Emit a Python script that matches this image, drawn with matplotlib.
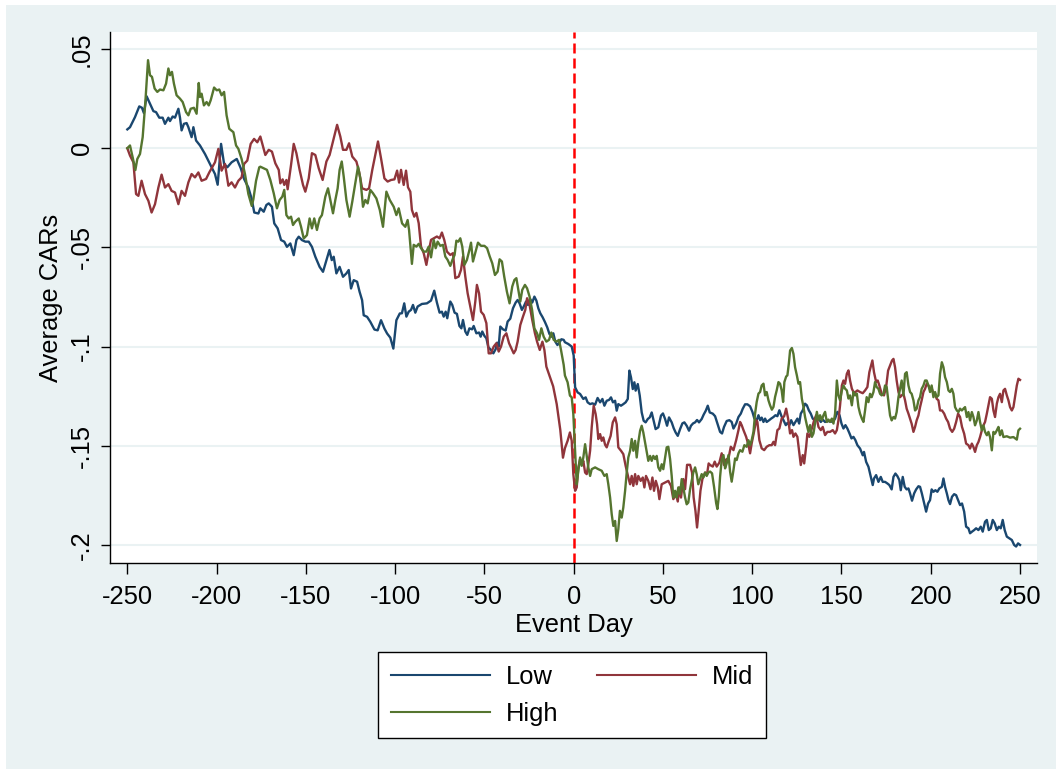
import matplotlib
matplotlib.use("Agg")
import matplotlib.pyplot as plt
from matplotlib.patches import Rectangle

# Average cumulative abnormal returns around the event, by group: (event day, CAR)
low_points = [
    (-250.0, 0.0095), (-248.5, 0.0106), (-245.7, 0.0157), (-243.3, 0.0211), (-241.8, 0.0204),
    (-240.7, 0.0177), (-239.2, 0.0262), (-236.9, 0.0216), (-235.4, 0.0187), (-233.9, 0.0182),
    (-232.1, 0.0154), (-230.2, 0.0154), (-228.9, 0.0123), (-227.0, 0.0154), (-226.1, 0.0137),
    (-224.6, 0.0160), (-223.3, 0.0154), (-221.4, 0.0199), (-220.5, 0.0154), (-219.6, 0.0090),
    (-218.3, 0.0123), (-216.8, 0.0127), (-215.8, 0.0106), (-214.0, 0.0056), (-213.0, 0.0106),
    (-211.5, 0.0039), (-209.3, 0.0014), (-206.5, -0.0029), (-203.7, -0.0079), (-200.9, -0.0130),
    (-199.4, -0.0184), (-197.5, 0.0022), (-195.8, -0.0079), (-194.0, -0.0096), (-191.6, -0.0071),
    (-188.7, -0.0054), (-186.5, -0.0100), (-184.6, -0.0155), (-182.2, -0.0198), (-180.3, -0.0257),
    (-178.9, -0.0324), (-176.6, -0.0329), (-175.5, -0.0303), (-173.6, -0.0320), (-172.1, -0.0286),
    (-170.8, -0.0278), (-169.0, -0.0295), (-167.7, -0.0379), (-165.8, -0.0404), (-163.9, -0.0463),
    (-162.1, -0.0471), (-160.6, -0.0497), (-158.7, -0.0480), (-156.8, -0.0539), (-155.3, -0.0463),
    (-154.0, -0.0446), (-152.2, -0.0463), (-150.3, -0.0471), (-148.4, -0.0471), (-146.6, -0.0497),
    (-144.7, -0.0547), (-142.3, -0.0598), (-140.4, -0.0623), (-138.5, -0.0564), (-136.8, -0.0513),
    (-135.5, -0.0564), (-134.4, -0.0547), (-132.9, -0.0631), (-131.1, -0.0598), (-129.2, -0.0648),
    (-127.3, -0.0631), (-126.0, -0.0614), (-124.7, -0.0707), (-123.2, -0.0665), (-121.3, -0.0673),
    (-119.9, -0.0724), (-118.5, -0.0766), (-117.6, -0.0842), (-115.7, -0.0850), (-113.9, -0.0875),
    (-111.6, -0.0914), (-109.8, -0.0918), (-107.9, -0.0867), (-106.0, -0.0909), (-104.5, -0.0934),
    (-102.7, -0.0955), (-101.0, -0.1010), (-99.3, -0.0867), (-97.4, -0.0833), (-96.2, -0.0832),
    (-94.9, -0.0782), (-93.7, -0.0849), (-92.4, -0.0824), (-91.1, -0.0815), (-90.0, -0.0790),
    (-88.7, -0.0829), (-87.4, -0.0798), (-85.0, -0.0785), (-82.2, -0.0782), (-79.9, -0.0768),
    (-78.1, -0.0718), (-76.6, -0.0778), (-75.1, -0.0829), (-73.8, -0.0824), (-72.8, -0.0849),
    (-71.7, -0.0824), (-70.8, -0.0857), (-69.1, -0.0773), (-68.0, -0.0790), (-66.7, -0.0829),
    (-65.4, -0.0835), (-64.0, -0.0896), (-62.9, -0.0908), (-62.0, -0.0866), (-60.7, -0.0924),
    (-59.6, -0.0941), (-58.4, -0.0908), (-56.9, -0.0913), (-56.0, -0.0896), (-54.5, -0.0933),
    (-53.0, -0.0929), (-52.1, -0.0950), (-51.2, -0.0924), (-50.0, -0.0946), (-48.9, -0.0958),
    (-47.8, -0.1003), (-46.3, -0.1017), (-45.0, -0.1034), (-43.7, -0.1013), (-42.9, -0.0980),
    (-42.0, -0.1000), (-41.1, -0.0899), (-39.6, -0.0913), (-38.1, -0.0919), (-37.0, -0.0874),
    (-35.5, -0.0859), (-34.0, -0.0807), (-32.5, -0.0778), (-31.4, -0.0765), (-30.3, -0.0782),
    (-29.0, -0.0815), (-27.8, -0.0795), (-26.7, -0.0773), (-25.6, -0.0790), (-24.3, -0.0761),
    (-23.2, -0.0778), (-22.0, -0.0748), (-20.9, -0.0768), (-19.8, -0.0807), (-18.7, -0.0832),
    (-17.4, -0.0852), (-16.1, -0.0876), (-14.8, -0.0903), (-13.6, -0.0936), (-12.5, -0.0950),
    (-11.4, -0.0933), (-10.3, -0.0975), (-9.1, -0.0992), (-8.0, -0.0980), (-6.9, -0.0963),
    (-5.6, -0.0966), (-4.9, -0.0978), (-3.0, -0.0987), (-1.1, -0.1000), (0.0, -0.1045),
    (0.8, -0.1205), (2.2, -0.1231), (3.6, -0.1239), (5.4, -0.1264), (6.7, -0.1256),
    (7.8, -0.1281), (9.2, -0.1290), (10.5, -0.1286), (12.0, -0.1293), (13.4, -0.1259),
    (14.8, -0.1281), (16.1, -0.1264), (17.2, -0.1298), (18.5, -0.1273), (19.8, -0.1269),
    (20.9, -0.1256), (22.0, -0.1281), (23.2, -0.1273), (24.1, -0.1323), (25.0, -0.1290),
    (26.5, -0.1298), (27.8, -0.1290), (29.1, -0.1281), (30.3, -0.1264), (31.2, -0.1121),
    (32.1, -0.1155), (33.1, -0.1214), (34.0, -0.1180), (34.7, -0.1222), (35.9, -0.1189),
    (37.0, -0.1247), (38.1, -0.1332), (39.2, -0.1374), (40.3, -0.1382), (41.5, -0.1365),
    (42.6, -0.1357), (43.7, -0.1332), (44.8, -0.1374), (45.9, -0.1416), (47.4, -0.1407),
    (48.9, -0.1348), (50.0, -0.1337), (51.2, -0.1365), (52.3, -0.1399), (53.4, -0.1357),
    (54.9, -0.1382), (56.0, -0.1411), (57.1, -0.1433), (58.3, -0.1450), (59.6, -0.1416),
    (60.9, -0.1387), (62.0, -0.1382), (63.3, -0.1399), (64.6, -0.1424), (65.7, -0.1399),
    (66.9, -0.1387), (68.0, -0.1382), (69.1, -0.1370), (70.2, -0.1382), (71.7, -0.1365),
    (72.8, -0.1343), (74.0, -0.1323), (75.1, -0.1298), (76.2, -0.1332), (77.9, -0.1338),
    (79.2, -0.1351), (80.5, -0.1388), (82.0, -0.1430), (83.1, -0.1438), (84.2, -0.1405),
    (85.7, -0.1375), (87.2, -0.1371), (88.5, -0.1380), (89.5, -0.1413), (91.0, -0.1388),
    (92.3, -0.1355), (93.6, -0.1338), (94.7, -0.1313), (96.0, -0.1291), (97.3, -0.1291),
    (98.8, -0.1301), (100.1, -0.1329), (101.2, -0.1363), (102.5, -0.1371), (103.5, -0.1346),
    (104.4, -0.1371), (105.3, -0.1358), (106.3, -0.1380), (107.2, -0.1363), (108.1, -0.1380),
    (109.5, -0.1371), (110.6, -0.1363), (111.9, -0.1355), (113.0, -0.1346), (114.1, -0.1351),
    (115.2, -0.1321), (116.4, -0.1351), (117.5, -0.1371), (118.8, -0.1396), (119.7, -0.1385),
    (120.8, -0.1396), (121.8, -0.1371), (123.1, -0.1396), (124.2, -0.1380), (125.3, -0.1363),
    (126.3, -0.1388), (127.2, -0.1338), (128.3, -0.1321), (129.6, -0.1288), (130.6, -0.1296),
    (131.7, -0.1321), (132.8, -0.1338), (133.9, -0.1363), (135.0, -0.1371), (136.2, -0.1371),
    (137.3, -0.1363), (138.4, -0.1380), (139.5, -0.1368), (140.8, -0.1380), (142.1, -0.1376),
    (143.6, -0.1376), (145.1, -0.1380), (146.4, -0.1363), (147.7, -0.1329), (148.9, -0.1346),
    (150.0, -0.1388), (151.1, -0.1413), (152.2, -0.1396), (153.3, -0.1413), (154.5, -0.1438),
    (155.6, -0.1463), (156.7, -0.1455), (157.8, -0.1472), (158.9, -0.1497), (160.4, -0.1514),
    (161.9, -0.1548), (162.6, -0.1531), (163.8, -0.1581), (165.1, -0.1606), (166.4, -0.1657),
    (167.5, -0.1698), (168.2, -0.1665), (169.4, -0.1648), (170.7, -0.1682), (172.0, -0.1657),
    (173.1, -0.1682), (174.4, -0.1682), (175.7, -0.1690), (176.8, -0.1698), (178.1, -0.1720),
    (179.1, -0.1657), (180.2, -0.1640), (181.3, -0.1653), (182.4, -0.1673), (183.2, -0.1724),
    (184.3, -0.1657), (185.4, -0.1707), (186.5, -0.1720), (187.5, -0.1715), (188.4, -0.1740),
    (189.5, -0.1777), (190.7, -0.1740), (191.8, -0.1720), (193.1, -0.1704), (194.0, -0.1707),
    (195.0, -0.1740), (196.3, -0.1791), (197.4, -0.1832), (198.5, -0.1791), (199.6, -0.1774),
    (200.5, -0.1720), (201.5, -0.1732), (202.6, -0.1724), (203.7, -0.1732), (204.8, -0.1715),
    (206.2, -0.1707), (207.1, -0.1665), (208.0, -0.1707), (209.0, -0.1740), (209.9, -0.1774),
    (210.8, -0.1794), (211.9, -0.1757), (213.1, -0.1744), (214.2, -0.1749), (215.3, -0.1774),
    (216.4, -0.1799), (217.5, -0.1791), (218.7, -0.1832), (219.8, -0.1908), (221.1, -0.1916),
    (222.0, -0.1941), (223.1, -0.1933), (224.3, -0.1925), (225.4, -0.1916), (226.7, -0.1925),
    (228.0, -0.1908), (229.1, -0.1933), (230.4, -0.1883), (231.4, -0.1874), (232.5, -0.1925),
    (233.6, -0.1916), (234.7, -0.1874), (235.8, -0.1891), (237.0, -0.1925), (238.1, -0.1908),
    (239.2, -0.1916), (240.3, -0.1874), (241.4, -0.1925), (242.6, -0.1958), (244.1, -0.1967),
    (245.4, -0.1975), (246.7, -0.2000), (247.8, -0.2008), (248.9, -0.1992), (250.0, -0.2000),
]

mid_points = [
    (-250.0, 0.0000), (-248.5, -0.0037), (-246.6, -0.0071), (-245.1, -0.0231), (-243.8, -0.0240),
    (-242.0, -0.0164), (-240.1, -0.0231), (-238.2, -0.0265), (-236.4, -0.0324), (-234.5, -0.0282),
    (-232.6, -0.0198), (-230.8, -0.0133), (-228.9, -0.0198), (-227.0, -0.0181), (-225.2, -0.0215),
    (-223.3, -0.0223), (-221.4, -0.0282), (-219.6, -0.0215), (-217.7, -0.0240), (-215.8, -0.0172),
    (-214.0, -0.0130), (-212.1, -0.0147), (-210.2, -0.0122), (-208.4, -0.0164), (-205.9, -0.0155),
    (-204.1, -0.0122), (-200.9, -0.0071), (-199.0, -0.0003), (-197.2, -0.0113), (-195.3, -0.0079),
    (-193.4, -0.0189), (-191.6, -0.0172), (-189.7, -0.0198), (-187.8, -0.0164), (-186.0, -0.0147),
    (-184.6, -0.0079), (-182.8, -0.0062), (-180.9, 0.0022), (-179.0, 0.0047), (-177.2, 0.0030),
    (-175.5, 0.0059), (-172.7, -0.0034), (-170.8, -0.0008), (-169.0, -0.0017), (-167.1, -0.0076),
    (-165.2, -0.0109), (-164.3, -0.0177), (-163.0, -0.0157), (-162.1, -0.0185), (-160.9, -0.0160),
    (-160.2, -0.0207), (-158.3, -0.0084), (-156.8, 0.0022), (-155.3, -0.0025), (-153.5, -0.0109),
    (-151.6, -0.0185), (-150.3, -0.0219), (-148.4, -0.0152), (-146.6, -0.0025), (-144.7, -0.0034),
    (-142.8, -0.0101), (-140.6, -0.0160), (-138.5, -0.0067), (-136.7, -0.0034), (-134.8, 0.0034),
    (-132.5, 0.0118), (-130.7, 0.0059), (-129.2, -0.0008), (-127.3, -0.0008), (-125.8, 0.0025),
    (-124.0, -0.0042), (-121.7, -0.0067), (-120.2, -0.0118), (-118.5, -0.0202), (-116.1, -0.0210),
    (-114.6, -0.0202), (-112.8, -0.0109), (-110.9, -0.0025), (-109.6, 0.0034), (-107.9, -0.0051),
    (-106.0, -0.0152), (-104.2, -0.0168), (-102.3, -0.0160), (-100.4, -0.0157), (-98.9, -0.0113),
    (-97.8, -0.0173), (-96.7, -0.0109), (-95.2, -0.0185), (-93.9, -0.0113), (-92.8, -0.0197),
    (-91.5, -0.0219), (-90.6, -0.0311), (-89.3, -0.0345), (-88.1, -0.0326), (-86.8, -0.0378),
    (-85.5, -0.0496), (-84.0, -0.0529), (-82.5, -0.0588), (-81.2, -0.0521), (-79.9, -0.0462),
    (-78.4, -0.0454), (-76.6, -0.0445), (-75.1, -0.0454), (-73.8, -0.0425), (-72.5, -0.0462),
    (-71.0, -0.0521), (-69.1, -0.0538), (-67.6, -0.0529), (-66.3, -0.0655), (-64.4, -0.0647),
    (-63.1, -0.0613), (-62.0, -0.0546), (-60.7, -0.0647), (-59.4, -0.0731), (-57.9, -0.0798),
    (-56.4, -0.0866), (-55.1, -0.0773), (-54.2, -0.0689), (-53.0, -0.0731), (-51.9, -0.0824),
    (-50.4, -0.0840), (-48.9, -0.0882), (-47.6, -0.1034), (-46.3, -0.1034), (-44.8, -0.1000),
    (-43.3, -0.0983), (-42.0, -0.1025), (-40.7, -0.1000), (-39.2, -0.0950), (-37.7, -0.0933),
    (-36.2, -0.0983), (-34.9, -0.1008), (-33.6, -0.1034), (-32.5, -0.1017), (-31.4, -0.0975),
    (-29.9, -0.0891), (-28.4, -0.0849), (-27.1, -0.0815), (-26.1, -0.0756), (-24.7, -0.0790),
    (-23.2, -0.0866), (-21.7, -0.0933), (-20.5, -0.0975), (-19.0, -0.1017), (-17.5, -0.0975),
    (-16.4, -0.1017), (-15.3, -0.1101), (-13.4, -0.1151), (-11.5, -0.1200), (-9.5, -0.1290),
    (-7.5, -0.1420), (-6.0, -0.1560), (-4.9, -0.1512), (-3.4, -0.1475), (-2.1, -0.1433),
    (-1.1, -0.1475), (-0.2, -0.1643), (0.8, -0.1727), (1.7, -0.1710), (2.6, -0.1609),
    (3.6, -0.1567), (4.5, -0.1593), (5.4, -0.1576), (6.4, -0.1635), (7.3, -0.1643),
    (8.2, -0.1593), (9.2, -0.1525), (10.1, -0.1407), (11.2, -0.1298), (12.3, -0.1340),
    (13.1, -0.1391), (13.8, -0.1466), (14.8, -0.1441), (15.7, -0.1475), (16.6, -0.1458),
    (17.6, -0.1495), (18.5, -0.1508), (19.4, -0.1483), (20.7, -0.1450), (21.9, -0.1382),
    (23.2, -0.1357), (24.1, -0.1391), (25.0, -0.1508), (26.5, -0.1525), (27.8, -0.1542),
    (29.1, -0.1601), (30.6, -0.1660), (31.6, -0.1694), (32.5, -0.1652), (33.4, -0.1702),
    (34.4, -0.1643), (35.3, -0.1694), (36.2, -0.1652), (37.5, -0.1677), (38.7, -0.1660),
    (39.6, -0.1710), (40.5, -0.1652), (41.8, -0.1677), (43.0, -0.1719), (44.1, -0.1660),
    (45.0, -0.1727), (46.0, -0.1677), (47.1, -0.1710), (48.0, -0.1769), (49.3, -0.1694),
    (51.2, -0.1685), (53.0, -0.1677), (54.5, -0.1702), (55.8, -0.1769), (57.3, -0.1744),
    (58.3, -0.1781), (59.2, -0.1710), (60.1, -0.1761), (61.4, -0.1668), (62.4, -0.1719),
    (63.5, -0.1596), (65.2, -0.1596), (66.3, -0.1635), (67.2, -0.1761), (68.2, -0.1828),
    (69.1, -0.1912), (70.0, -0.1828), (71.0, -0.1727), (72.1, -0.1668), (73.6, -0.1635),
    (74.7, -0.1643), (75.6, -0.1589), (76.4, -0.1597), (77.9, -0.1605), (79.0, -0.1580),
    (80.1, -0.1605), (81.6, -0.1585), (82.9, -0.1538), (84.2, -0.1597), (85.4, -0.1569),
    (86.7, -0.1564), (88.0, -0.1505), (89.5, -0.1522), (91.0, -0.1472), (92.3, -0.1421),
    (93.2, -0.1380), (94.1, -0.1396), (95.1, -0.1421), (96.6, -0.1455), (97.9, -0.1497),
    (98.8, -0.1538), (99.7, -0.1488), (101.0, -0.1430), (102.2, -0.1371), (102.9, -0.1380),
    (104.0, -0.1472), (105.3, -0.1513), (106.7, -0.1522), (108.1, -0.1505), (109.6, -0.1497),
    (110.9, -0.1497), (111.9, -0.1480), (112.8, -0.1497), (114.1, -0.1421), (115.2, -0.1413),
    (116.5, -0.1363), (117.9, -0.1351), (119.0, -0.1313), (120.1, -0.1363), (121.2, -0.1438),
    (122.3, -0.1421), (123.1, -0.1455), (124.2, -0.1438), (125.3, -0.1455), (126.4, -0.1538),
    (127.2, -0.1597), (128.3, -0.1547), (129.1, -0.1589), (130.2, -0.1505), (130.9, -0.1438),
    (132.0, -0.1455), (133.4, -0.1413), (134.7, -0.1371), (135.8, -0.1346), (137.1, -0.1405),
    (138.4, -0.1421), (139.5, -0.1405), (140.8, -0.1446), (142.1, -0.1430), (143.6, -0.1430),
    (145.1, -0.1421), (146.4, -0.1438), (147.4, -0.1421), (148.3, -0.1371), (149.2, -0.1296),
    (150.2, -0.1196), (151.1, -0.1171), (152.0, -0.1188), (153.0, -0.1137), (153.9, -0.1120),
    (154.8, -0.1171), (155.8, -0.1212), (156.7, -0.1229), (157.8, -0.1229), (158.9, -0.1221),
    (160.4, -0.1229), (161.9, -0.1235), (163.2, -0.1221), (164.5, -0.1204), (165.6, -0.1129),
    (166.6, -0.1095), (167.3, -0.1070), (168.2, -0.1129), (169.4, -0.1179), (170.3, -0.1171),
    (171.2, -0.1196), (172.5, -0.1238), (173.8, -0.1246), (175.0, -0.1204), (176.1, -0.1121),
    (177.2, -0.1095), (178.3, -0.1070), (179.1, -0.1062), (180.0, -0.1104), (180.9, -0.1171),
    (181.9, -0.1229), (182.8, -0.1255), (183.7, -0.1246), (184.7, -0.1238), (185.6, -0.1271),
    (186.5, -0.1313), (187.5, -0.1338), (188.4, -0.1363), (189.3, -0.1389), (190.3, -0.1430),
    (191.2, -0.1405), (192.1, -0.1372), (193.1, -0.1347), (194.0, -0.1305), (194.9, -0.1271),
    (195.9, -0.1229), (196.8, -0.1213), (197.7, -0.1188), (198.7, -0.1196), (199.6, -0.1213),
    (200.5, -0.1209), (201.5, -0.1238), (202.4, -0.1238), (203.3, -0.1263), (204.3, -0.1271),
    (205.2, -0.1322), (206.3, -0.1322), (207.5, -0.1338), (208.6, -0.1363), (209.7, -0.1380),
    (210.8, -0.1414), (212.0, -0.1430), (213.1, -0.1414), (214.2, -0.1380), (215.3, -0.1338),
    (216.4, -0.1355), (217.5, -0.1405), (218.7, -0.1439), (219.8, -0.1489), (221.1, -0.1497),
    (222.0, -0.1514), (223.0, -0.1489), (223.9, -0.1506), (224.8, -0.1531), (225.8, -0.1497),
    (226.7, -0.1481), (227.6, -0.1456), (228.6, -0.1422), (229.5, -0.1397), (230.4, -0.1380),
    (231.4, -0.1338), (232.3, -0.1296), (233.2, -0.1255), (234.2, -0.1263), (235.1, -0.1322),
    (236.0, -0.1355), (237.0, -0.1288), (237.9, -0.1255), (238.8, -0.1238), (239.8, -0.1280),
    (240.7, -0.1221), (241.6, -0.1213), (242.6, -0.1246), (243.5, -0.1271), (244.4, -0.1305),
    (245.4, -0.1322), (246.3, -0.1305), (247.2, -0.1255), (248.2, -0.1196), (249.1, -0.1162),
    (250.0, -0.1168),
]

high_points = [
    (-250.0, 0.0000), (-248.5, 0.0014), (-247.0, -0.0046), (-245.5, -0.0110), (-244.4, -0.0054),
    (-242.9, -0.0029), (-241.4, 0.0056), (-239.9, 0.0233), (-238.4, 0.0444), (-237.3, 0.0368),
    (-236.2, 0.0360), (-234.7, 0.0301), (-233.2, 0.0284), (-231.7, 0.0296), (-229.8, 0.0292),
    (-228.3, 0.0326), (-227.0, 0.0402), (-226.1, 0.0368), (-225.0, 0.0385), (-223.9, 0.0326),
    (-222.4, 0.0267), (-220.5, 0.0250), (-219.0, 0.0233), (-217.1, 0.0182), (-215.8, 0.0166),
    (-214.5, 0.0199), (-212.7, 0.0204), (-211.2, 0.0174), (-210.0, 0.0329), (-209.3, 0.0258),
    (-208.4, 0.0275), (-207.1, 0.0216), (-205.6, 0.0233), (-204.4, 0.0216), (-203.3, 0.0242),
    (-201.4, 0.0306), (-199.9, 0.0292), (-198.5, 0.0296), (-197.2, 0.0267), (-195.8, 0.0284),
    (-194.4, 0.0166), (-192.9, 0.0098), (-190.6, 0.0081), (-189.1, 0.0014), (-187.8, -0.0003),
    (-186.0, -0.0054), (-184.1, -0.0130), (-182.2, -0.0231), (-180.3, -0.0291), (-179.4, -0.0257),
    (-177.9, -0.0164), (-176.1, -0.0096), (-175.5, -0.0093), (-173.6, -0.0101), (-171.8, -0.0109),
    (-169.9, -0.0160), (-168.0, -0.0227), (-166.2, -0.0303), (-164.7, -0.0261), (-163.2, -0.0244),
    (-162.1, -0.0210), (-160.9, -0.0337), (-159.6, -0.0354), (-158.3, -0.0345), (-157.2, -0.0387),
    (-155.9, -0.0370), (-154.0, -0.0354), (-152.7, -0.0396), (-151.2, -0.0455), (-149.4, -0.0438),
    (-147.9, -0.0354), (-146.6, -0.0404), (-145.3, -0.0354), (-143.8, -0.0412), (-142.3, -0.0354),
    (-141.0, -0.0337), (-139.1, -0.0244), (-137.6, -0.0202), (-136.3, -0.0261), (-134.8, -0.0328),
    (-133.5, -0.0261), (-132.2, -0.0202), (-131.1, -0.0109), (-129.9, -0.0067), (-128.8, -0.0143),
    (-127.3, -0.0261), (-125.5, -0.0345), (-124.0, -0.0269), (-122.3, -0.0177), (-120.8, -0.0093),
    (-119.5, -0.0152), (-118.0, -0.0295), (-116.7, -0.0261), (-115.4, -0.0278), (-113.9, -0.0210),
    (-112.4, -0.0227), (-110.5, -0.0253), (-108.6, -0.0311), (-106.8, -0.0396), (-104.9, -0.0219),
    (-103.0, -0.0261), (-100.8, -0.0295), (-99.3, -0.0337), (-98.0, -0.0303), (-96.1, -0.0379),
    (-94.3, -0.0396), (-93.0, -0.0362), (-92.2, -0.0412), (-90.6, -0.0583), (-89.6, -0.0487),
    (-88.1, -0.0496), (-86.8, -0.0482), (-85.5, -0.0504), (-84.0, -0.0521), (-82.5, -0.0521),
    (-81.2, -0.0496), (-79.9, -0.0550), (-78.4, -0.0462), (-77.3, -0.0504), (-76.2, -0.0471),
    (-74.7, -0.0492), (-73.2, -0.0487), (-71.9, -0.0546), (-70.6, -0.0563), (-69.1, -0.0593),
    (-67.8, -0.0560), (-66.7, -0.0538), (-65.7, -0.0466), (-64.6, -0.0471), (-63.5, -0.0454),
    (-62.4, -0.0496), (-61.2, -0.0588), (-59.8, -0.0563), (-58.4, -0.0513), (-57.5, -0.0476),
    (-56.4, -0.0571), (-54.9, -0.0521), (-53.6, -0.0476), (-51.9, -0.0492), (-50.0, -0.0492),
    (-48.5, -0.0504), (-47.0, -0.0546), (-45.6, -0.0580), (-44.1, -0.0639), (-42.6, -0.0622),
    (-41.5, -0.0560), (-40.2, -0.0571), (-38.9, -0.0647), (-37.4, -0.0723), (-35.9, -0.0782),
    (-34.4, -0.0697), (-33.2, -0.0664), (-32.1, -0.0655), (-31.0, -0.0714), (-29.9, -0.0773),
    (-28.8, -0.0714), (-27.3, -0.0689), (-26.1, -0.0706), (-24.7, -0.0748), (-23.3, -0.0815),
    (-22.0, -0.0908), (-20.5, -0.0933), (-19.4, -0.0966), (-18.1, -0.0908), (-16.8, -0.0950),
    (-15.3, -0.0975), (-13.8, -0.0966), (-12.5, -0.0929), (-11.2, -0.0966), (-9.7, -0.0975),
    (-8.2, -0.0966), (-7.1, -0.1017), (-5.6, -0.1092), (-4.9, -0.1146), (-3.4, -0.1180),
    (-2.1, -0.1247), (-1.1, -0.1256), (-0.2, -0.1340), (0.8, -0.1525), (1.7, -0.1694),
    (2.6, -0.1626), (3.6, -0.1559), (4.5, -0.1601), (5.4, -0.1559), (6.4, -0.1492),
    (7.3, -0.1551), (8.2, -0.1609), (9.2, -0.1652), (10.1, -0.1618), (12.0, -0.1609),
    (13.8, -0.1618), (15.7, -0.1626), (17.2, -0.1652), (18.5, -0.1643), (19.4, -0.1694),
    (20.4, -0.1761), (21.3, -0.1845), (22.2, -0.1904), (23.2, -0.1879), (24.1, -0.1980),
    (25.0, -0.1921), (25.9, -0.1828), (26.9, -0.1862), (27.8, -0.1811), (28.8, -0.1727),
    (29.7, -0.1635), (30.6, -0.1559), (31.6, -0.1525), (32.5, -0.1466), (33.4, -0.1525),
    (34.4, -0.1475), (35.3, -0.1559), (36.2, -0.1483), (37.2, -0.1424), (38.1, -0.1399),
    (39.0, -0.1433), (40.0, -0.1483), (40.9, -0.1525), (41.8, -0.1576), (42.8, -0.1551),
    (43.7, -0.1576), (44.6, -0.1551), (45.6, -0.1567), (46.5, -0.1551), (47.4, -0.1609),
    (48.4, -0.1626), (49.3, -0.1593), (50.2, -0.1618), (51.2, -0.1559), (52.1, -0.1508),
    (53.0, -0.1505), (54.0, -0.1567), (54.9, -0.1652), (55.8, -0.1761), (56.8, -0.1727),
    (57.7, -0.1761), (58.6, -0.1710), (59.6, -0.1744), (60.5, -0.1668), (61.4, -0.1710),
    (62.4, -0.1761), (63.3, -0.1795), (64.2, -0.1786), (65.2, -0.1719), (66.1, -0.1677),
    (67.0, -0.1635), (68.0, -0.1609), (68.9, -0.1643), (69.8, -0.1694), (70.8, -0.1668),
    (71.7, -0.1643), (72.6, -0.1660), (73.6, -0.1635), (74.5, -0.1652), (75.4, -0.1635),
    (76.4, -0.1630), (77.5, -0.1639), (78.6, -0.1706), (79.8, -0.1789), (80.5, -0.1819),
    (81.3, -0.1756), (82.0, -0.1656), (82.9, -0.1572), (83.9, -0.1547), (84.8, -0.1614),
    (85.7, -0.1589), (86.7, -0.1547), (87.6, -0.1630), (88.5, -0.1681), (89.5, -0.1622),
    (90.4, -0.1564), (91.3, -0.1572), (92.3, -0.1538), (93.2, -0.1522), (94.5, -0.1530),
    (95.6, -0.1497), (96.9, -0.1505), (97.9, -0.1472), (98.8, -0.1497), (99.7, -0.1472),
    (100.7, -0.1430), (101.6, -0.1338), (102.5, -0.1279), (103.5, -0.1237), (104.4, -0.1229),
    (105.3, -0.1196), (106.3, -0.1187), (107.2, -0.1246), (108.1, -0.1229), (109.1, -0.1271),
    (110.0, -0.1296), (111.0, -0.1318), (111.9, -0.1304), (112.8, -0.1254), (113.7, -0.1221),
    (114.7, -0.1179), (115.6, -0.1187), (116.5, -0.1221), (117.3, -0.1279), (118.0, -0.1179),
    (119.0, -0.1151), (119.7, -0.1145), (120.5, -0.1087), (121.2, -0.1020), (122.2, -0.1007),
    (123.1, -0.1037), (124.0, -0.1104), (125.0, -0.1145), (125.9, -0.1187), (126.8, -0.1179),
    (127.8, -0.1263), (128.7, -0.1304), (129.6, -0.1355), (130.6, -0.1396), (131.5, -0.1430),
    (132.4, -0.1396), (133.4, -0.1455), (134.3, -0.1438), (135.2, -0.1388), (136.2, -0.1329),
    (137.1, -0.1371), (138.0, -0.1346), (139.0, -0.1371), (139.9, -0.1346), (140.8, -0.1329),
    (141.8, -0.1380), (142.7, -0.1368), (143.6, -0.1380), (144.6, -0.1363), (145.5, -0.1388),
    (146.4, -0.1338), (147.4, -0.1171), (148.3, -0.1246), (149.2, -0.1271), (150.2, -0.1221),
    (151.1, -0.1196), (152.0, -0.1212), (153.0, -0.1221), (153.9, -0.1262), (154.8, -0.1246),
    (155.8, -0.1296), (156.7, -0.1229), (157.6, -0.1246), (158.6, -0.1237), (159.5, -0.1304),
    (160.4, -0.1338), (161.4, -0.1363), (162.3, -0.1380), (163.2, -0.1322), (164.1, -0.1255),
    (165.1, -0.1280), (166.0, -0.1238), (166.9, -0.1255), (167.9, -0.1229), (168.8, -0.1179),
    (169.7, -0.1204), (170.7, -0.1213), (171.6, -0.1238), (172.5, -0.1246), (173.5, -0.1238),
    (174.4, -0.1196), (175.3, -0.1204), (176.3, -0.1280), (177.2, -0.1347), (178.1, -0.1372),
    (179.1, -0.1355), (180.0, -0.1363), (180.9, -0.1330), (181.9, -0.1255), (182.8, -0.1213),
    (183.7, -0.1171), (184.7, -0.1246), (185.6, -0.1137), (186.5, -0.1129), (187.5, -0.1196),
    (188.4, -0.1229), (189.3, -0.1238), (190.3, -0.1271), (191.2, -0.1322), (192.1, -0.1313),
    (193.1, -0.1271), (194.0, -0.1255), (194.9, -0.1213), (195.9, -0.1196), (196.8, -0.1171),
    (197.7, -0.1171), (198.7, -0.1196), (199.6, -0.1229), (200.5, -0.1196), (201.5, -0.1255),
    (202.4, -0.1229), (203.3, -0.1255), (204.3, -0.1246), (205.2, -0.1137), (206.2, -0.1079),
    (207.1, -0.1104), (208.0, -0.1154), (209.0, -0.1179), (209.9, -0.1221), (210.8, -0.1229),
    (211.8, -0.1213), (212.7, -0.1238), (213.6, -0.1305), (214.6, -0.1322), (215.5, -0.1330),
    (216.4, -0.1313), (217.4, -0.1322), (218.3, -0.1313), (219.2, -0.1305), (220.2, -0.1355),
    (221.1, -0.1330), (222.0, -0.1372), (223.0, -0.1330), (223.9, -0.1355), (224.8, -0.1397),
    (225.8, -0.1372), (226.7, -0.1330), (227.6, -0.1380), (228.6, -0.1422), (229.5, -0.1397),
    (230.4, -0.1430), (231.4, -0.1447), (232.3, -0.1430), (233.2, -0.1456), (234.2, -0.1523),
    (235.1, -0.1430), (236.0, -0.1439), (237.0, -0.1422), (237.9, -0.1405), (238.8, -0.1447),
    (239.8, -0.1422), (240.7, -0.1456), (242.6, -0.1452), (244.4, -0.1459), (246.3, -0.1456),
    (248.2, -0.1469), (249.1, -0.1422), (250.0, -0.1414),
]

series_labels = ["Low", "Mid", "High"]
series_colors = ["#1A476F", "#90353B", "#55752F"]

x_ticks = [-250, -200, -150, -100, -50, 0, 50, 100, 150, 200, 250]
x_tick_labels = ["-250", "-200", "-150", "-100", "-50", "0", "50", "100", "150", "200", "250"]
y_ticks = [-0.2, -0.15, -0.1, -0.05, 0.0, 0.05]
y_tick_labels = ["-.2", "-.15", "-.1", "-.05", "0", ".05"]

BG = "#EAF2F3"
FS = 18.4
plt.rcParams["font.family"] = ["Liberation Sans", "DejaVu Sans"]

W, H = 1056, 769
fig = plt.figure(figsize=(W / 100, H / 100), dpi=100, facecolor="white")
# outer graph region, kept behind the axes
fig.patches.append(Rectangle((6 / W, 0), 1 - 6 / W, 1 - 5 / H, transform=fig.transFigure,
                             facecolor=BG, edgecolor="none", zorder=-10))

ax = fig.add_axes([110 / W, 1 - 563 / H, (1037 - 110) / W, (563 - 32) / H])
ax.set_facecolor("white")

handles = {}
for pts, lab, col in zip([low_points, mid_points, high_points], series_labels, series_colors):
    days = [p[0] for p in pts]
    cars = [p[1] for p in pts]
    handles[lab], = ax.plot(days, cars, color=col, lw=1.7, label=lab, zorder=3,
                            solid_joinstyle="round")

# event date marker
ax.axvline(0, color="red", lw=1.8, dashes=(4.0, 2.0), zorder=2)

ax.set_xlim(-259.7, 259.5)
ax.set_ylim(-0.2091, 0.0586)
ax.set_xticks(x_ticks)
ax.set_xticklabels(x_tick_labels, fontsize=FS)
ax.set_yticks(y_ticks)
ax.set_yticklabels(y_tick_labels, fontsize=FS, rotation=90, va="center")

ax.grid(axis="y", color=BG, lw=1.5, zorder=1)
ax.grid(axis="x", visible=False)
ax.set_axisbelow(True)

for side in ["top", "right"]:
    ax.spines[side].set_visible(False)
for side in ["left", "bottom"]:
    ax.spines[side].set_linewidth(1.0)
    ax.spines[side].set_color("black")

ax.tick_params(axis="x", length=8, width=1.0, pad=8, colors="black")
ax.tick_params(axis="y", length=6.5, width=1.0, pad=5, colors="black")

ax.set_xlabel("Event Day", fontsize=FS, labelpad=3)
ax.set_ylabel("Average CARs", fontsize=FS, labelpad=5)

# two-column legend filled row by row: Low, Mid / High
order = ["Low", "High", "Mid"]
leg = fig.legend([handles[k] for k in order], order, loc="upper left",
                 bbox_to_anchor=(378 / W, 1 - 652 / H), ncol=2,
                 fontsize=FS, frameon=True, fancybox=False, shadow=False, framealpha=1,
                 edgecolor="black", handlelength=3.9, handletextpad=0.6,
                 columnspacing=1.5, labelspacing=0.5, borderpad=0.5, borderaxespad=0)
leg.get_frame().set_linewidth(1.0)
for line in leg.get_lines():
    line.set_linewidth(1.5)

fig.savefig("out.png", dpi=100, facecolor=fig.get_facecolor())
